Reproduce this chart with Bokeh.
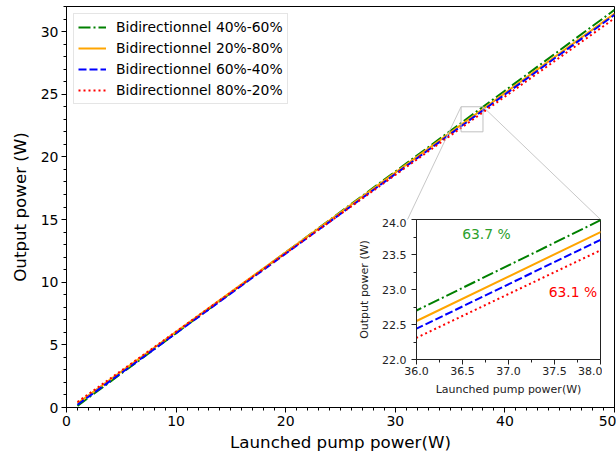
from bokeh.plotting import figure
from bokeh.models import Range1d, SingleIntervalTicker, Legend, LegendItem, PrintfTickFormatter
from bokeh.layouts import column
from bokeh.embed import file_html
from bokeh.resources import INLINE
from bokeh.core.properties import value

# ---------------- data ----------------
pump = [1, 10, 20, 30, 36, 38, 40, 50]
out_40_60 = [0.13, 5.93, 12.38, 18.83, 22.70, 23.99, 25.28, 31.73]
out_20_80 = [0.33, 6.04, 12.39, 18.74, 22.55, 23.82, 25.09, 31.44]
out_60_40 = [0.22, 5.93, 12.28, 18.63, 22.44, 23.71, 24.98, 31.33]
out_80_20 = [0.44, 6.06, 12.31, 18.56, 22.31, 23.56, 24.81, 31.06]

series = [out_40_60, out_20_80, out_60_40, out_80_20]
series_labels = ["Bidirectionnel 40%-60%", "Bidirectionnel 20%-80%",
                 "Bidirectionnel 60%-40%", "Bidirectionnel 80%-20%"]
series_colors = ["green", "orange", "blue", "red"]
series_dash = ["12 3 2 3", "solid", "8 3", "2 3"]

main_x = [0, 50]
main_y = [0, 32]
zoom_x = [36, 38]
zoom_y = [22, 24]

eff_text = ["63.7 %", "63.1 %"]
eff_x = [36.76, 37.70]
eff_y = [23.79, 22.97]
eff_colors = ["#2ca02c", "red"]

FONT = "DejaVu Sans"

# ---------------- layout constants ----------------
W, H = 616, 454
ML, MR, MT, MB = 66, 2, 6, 47
IW, IH = 252, 183
IML, IMR, IMT, IMB = 57, 2, 1, 42
INSET_LEFT, INSET_TOP = 350, 218

p = figure(width=W, height=H, x_range=Range1d(*main_x), y_range=Range1d(*main_y),
           output_backend="svg", toolbar_location=None,
           min_border_left=ML, min_border_right=MR, min_border_top=MT, min_border_bottom=MB)
p.xgrid.visible = False
p.ygrid.visible = False
p.outline_line_color = "black"
p.outline_line_width = 1
p.background_fill_color = "white"
p.border_fill_color = "white"

p.xaxis.ticker = SingleIntervalTicker(interval=10, num_minor_ticks=10)
p.yaxis.ticker = SingleIntervalTicker(interval=5, num_minor_ticks=5)
p.xaxis.axis_label = "Launched pump power(W)"
p.yaxis.axis_label = "Output power (W)"
for ax in (p.xaxis[0], p.yaxis[0]):
    ax.major_tick_in = 0
    ax.major_tick_out = 5
    ax.minor_tick_in = 0
    ax.minor_tick_out = 3
    ax.axis_line_color = "black"
    ax.major_tick_line_color = "black"
    ax.minor_tick_line_color = "black"
    ax.major_label_text_font = FONT
    ax.major_label_text_font_size = "14px"
    ax.major_label_text_color = "black"
    ax.axis_label_text_font = FONT
    ax.axis_label_text_font_size = "16.7px"
    ax.axis_label_text_font_style = "normal"
    ax.axis_label_text_color = "black"
p.xaxis.major_label_standoff = 3
p.xaxis.axis_label_standoff = 3
p.yaxis.major_label_standoff = 3
p.yaxis.axis_label_standoff = 8

items = []
for ys, lab, col, dash in zip(series, series_labels, series_colors, series_dash):
    r = p.line(pump, ys, line_color=col, line_width=2, line_dash=dash)
    items.append(LegendItem(label=lab, renderers=[r]))

legend = Legend(items=items, location="top_left", margin=7, padding=4, spacing=3,
                glyph_width=28, glyph_height=18, label_height=18, label_standoff=10,
                label_text_font=FONT, label_text_font_size="13.9px", label_text_color="black",
                border_line_color="#cccccc", border_line_width=1,
                background_fill_color="white", background_fill_alpha=0.8)
p.add_layout(legend)

# zoom rectangle
p.quad(left=[zoom_x[0]], right=[zoom_x[1]], bottom=[zoom_y[0]], top=[zoom_y[1]],
       fill_color=None, line_color="#c0c0c0", line_width=1)

# connectors from the zoom rectangle to the inset corners (converted via main scales)
fw = W - ML - MR
fh = H - MT - MB
def to_main_x(px):
    return main_x[0] + (px - ML) / fw * (main_x[1] - main_x[0])
def to_main_y(py):
    return main_y[1] - (py - MT) / fh * (main_y[1] - main_y[0])
in_left = to_main_x(INSET_LEFT + IML)
in_right = to_main_x(INSET_LEFT + IW - IMR)
in_top = to_main_y(INSET_TOP + IMT)
p.segment(x0=[zoom_x[0], zoom_x[1]], y0=[zoom_y[1], zoom_y[1]],
          x1=[in_left, in_right], y1=[in_top, in_top],
          line_color="#c8c8c8", line_width=1)

# ---------------- inset ----------------
inset = figure(width=IW, height=IH, x_range=Range1d(*zoom_x), y_range=Range1d(*zoom_y),
               output_backend="svg", toolbar_location=None,
               min_border_left=IML, min_border_right=IMR, min_border_top=IMT, min_border_bottom=IMB)
inset.xgrid.visible = False
inset.ygrid.visible = False
inset.outline_line_color = "#222222"
inset.background_fill_color = "white"
inset.border_fill_color = None
inset.xaxis.ticker = SingleIntervalTicker(interval=0.5, num_minor_ticks=2)
inset.yaxis.ticker = SingleIntervalTicker(interval=0.5, num_minor_ticks=2)
inset.xaxis.formatter = PrintfTickFormatter(format="%.1f")
inset.yaxis.formatter = PrintfTickFormatter(format="%.1f")
inset.xaxis.axis_label = "Launched pump power(W)"
inset.yaxis.axis_label = "Output power (W)"
for ax in (inset.xaxis[0], inset.yaxis[0]):
    ax.major_tick_in = 0
    ax.major_tick_out = 5
    ax.minor_tick_in = 0
    ax.minor_tick_out = 3
    ax.axis_line_color = "#222222"
    ax.major_tick_line_color = "#222222"
    ax.minor_tick_line_color = "#222222"
    ax.major_label_text_font = FONT
    ax.major_label_text_font_size = "11px"
    ax.major_label_text_color = "#222222"
    ax.axis_label_text_font = FONT
    ax.axis_label_text_font_size = "11px"
    ax.axis_label_text_font_style = "normal"
    ax.axis_label_text_color = "#222222"
inset.xaxis.major_label_standoff = 2
inset.yaxis.major_label_standoff = 5
inset.xaxis.axis_label_standoff = 5
inset.yaxis.axis_label_standoff = 8

for ys, col, dash in zip(series, series_colors, series_dash):
    inset.line(pump, ys, line_color=col, line_width=2, line_dash=dash)

inset.text(x=eff_x, y=eff_y, text=eff_text, text_color=eff_colors,
           text_font=value(FONT), text_font_size="13.9px",
           text_align="center", text_baseline="middle")

inset.styles = {"position": "absolute", "left": f"{INSET_LEFT}px", "top": f"{INSET_TOP}px"}

root = column(p, inset, styles={"position": "relative"})

open("out.html", "w").write(file_html(root, INLINE))
